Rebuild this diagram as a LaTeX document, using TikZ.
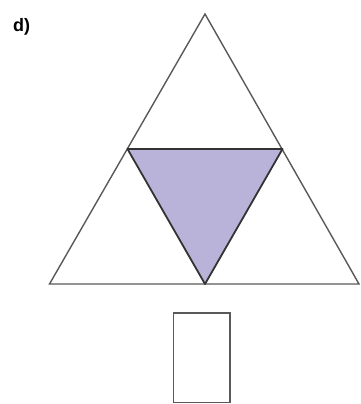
\documentclass[tikz,border=0pt]{standalone}
\usepackage{fontspec}
\setmainfont{Liberation Sans}
\begin{document}
\begin{tikzpicture}[x=1pt,y=-1pt,
  outer/.style={draw=black!65,line width=1.4pt,line join=miter},
  inner/.style={draw=black!80,line width=1.8pt,fill={rgb,255:red,185;green,179;blue,217},line join=round},
  lbl/.style={font=\bfseries\fontsize{18}{20}\selectfont,anchor=center,inner sep=0pt}]
\useasboundingbox (0,0) rectangle (360,404);
\coordinate (A) at (205,14);
\coordinate (B) at (49.5,284);
\coordinate (C) at (359,284);
\coordinate (AB) at (127.5,149);
\coordinate (AC) at (282.5,149);
\coordinate (BC) at (205,284);
\draw[outer] (A) -- (B) -- (C) -- cycle;
\draw[inner] (AB) -- (AC) -- (BC) -- cycle;
\draw[outer,line width=1.2pt] (173.5,313) rectangle (230,402.5);
\node[lbl] (d) at (21.5,27) {d)};
\end{tikzpicture}
\end{document}
